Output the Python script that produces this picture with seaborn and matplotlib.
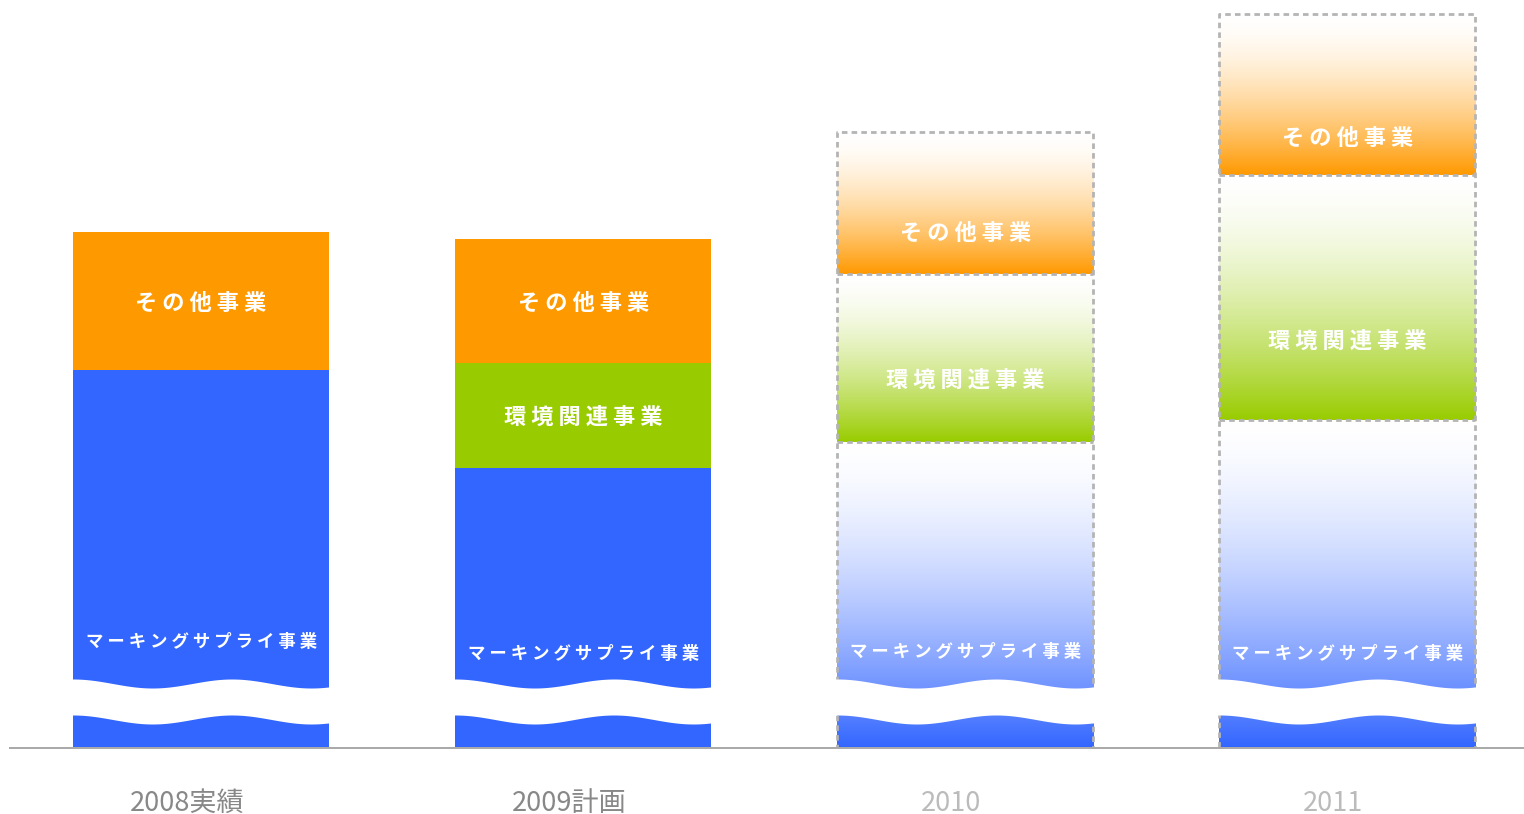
import numpy as np
import pandas as pd
import matplotlib
matplotlib.use("Agg")
import matplotlib.pyplot as plt
import seaborn as sns
from matplotlib.transforms import ScaledTranslation
from matplotlib.colors import to_rgb

# Segment sizes per year (stacked from the bottom: marking supplies, environment, other)
years = ["2008実績", "2009計画", "2010", "2011"]
marking = [378, 280, 306, 328]
environment = [0, 105, 168, 245]
other = [138, 124, 142, 161]
forecast = [False, False, True, True]

label_marking = "マーキングサプライ事業"
label_env = "環境関連事業"
label_other = "その他事業"

BLUE = "#3366FF"
GREEN = "#99CC00"
ORANGE = "#FF9900"
DASH_GREY = "#B4B4B4"

sns.set_theme(style="white")
plt.rcParams["font.family"] = ["Noto Sans CJK JP", "DejaVu Sans"]

df = pd.DataFrame({"year": years, "marking": marking,
                   "environment": environment, "other": other})
df["top_marking"] = df["marking"]
df["top_env"] = df["marking"] + df["environment"]
df["top_total"] = df["top_env"] + df["other"]

W, H = 1524, 814
fig = plt.figure(figsize=(W / 100, H / 100), dpi=100)
ax = fig.add_axes([10 / W, 66 / H, 1514 / W, 748 / H])

BAR_W = 0.67
layers = [("top_total", ORANGE), ("top_env", GREEN), ("top_marking", BLUE)]
for col, color in layers:
    n0 = len(ax.patches)
    sns.barplot(data=df, x="year", y=col, color=color, width=BAR_W,
                saturation=1, linewidth=0, ax=ax, zorder=2)
    # forecast bars get gradient fills instead of solid colour
    for j, p in enumerate(ax.patches[n0:]):
        if forecast[j]:
            p.set_visible(False)


def gradient(color, n=256, power=1.6):
    rgb = np.array(to_rgb(color))
    s = 1 - np.linspace(0, 1, n)  # 1 at bottom row, 0 at top row
    wgt = s ** power
    img = 1 - wgt[:, None] * (1 - rgb[None, :])
    return img[:, None, :]


dash = (0, (2.0, 1.5))
DASH_LW = 2.0
for j in range(len(years)):
    if not forecast[j]:
        continue
    x0, x1 = j - BAR_W / 2, j + BAR_W / 2
    segs = [(0, df.top_marking[j], BLUE),
            (df.top_marking[j], df.top_env[j], GREEN),
            (df.top_env[j], df.top_total[j], ORANGE)]
    for b, t, c in segs:
        if t > b:
            ax.imshow(gradient(c), extent=[x0, x1, b, t], origin="lower",
                      aspect="auto", interpolation="bilinear", zorder=2)
    tot = df.top_total[j]
    ax.plot([x0, x1, x1, x0, x0], [0, 0, tot, tot, 0], ls=dash, lw=DASH_LW,
            color=DASH_GREY, zorder=3)
    for yb in (df.top_marking[j], df.top_env[j]):
        ax.plot([x0, x1], [yb, yb], ls=dash, lw=DASH_LW, color=DASH_GREY, zorder=3)

# wavy axis-break band across the marking segment
BREAK_LO, BREAK_HI, AMP = 28.5, 64.5, 4.5
for j in range(len(years)):
    x0, x1 = j - BAR_W / 2, j + BAR_W / 2
    xs = np.linspace(x0 - 0.012, x1 + 0.012, 300)
    tt = (xs - x0) / (x1 - x0)
    wave = AMP * np.cos(2 * np.pi * tt / 0.62)
    ax.fill_between(xs, BREAK_LO + wave, BREAK_HI + wave, color="white",
                    lw=0, zorder=4)


def spaced(s):
    return " ".join(s)


marking_label_y = [106, 94, 96, 94]
env_frac = [0.5, 0.5, 0.38, 0.33]
other_frac = [0.5, 0.5, 0.30, 0.24]
TXT = dict(ha="center", va="center", color="white", fontweight="bold", zorder=5)
for j in range(len(years)):
    ax.text(j, marking_label_y[j], spaced(label_marking), fontsize=12.5, **TXT)
    if df.environment[j] > 0:
        b, t = df.top_marking[j], df.top_env[j]
        ax.text(j, b + env_frac[j] * (t - b) - 2, spaced(label_env),
                fontsize=16, **TXT)
    b, t = df.top_env[j], df.top_total[j]
    ax.text(j, b + other_frac[j] * (t - b) - 2, spaced(label_other),
            fontsize=16, **TXT)

ax.set_xlim(-0.5, 3.462)
ax.set_ylim(0, 748)
ax.set_xlabel("")
ax.set_ylabel("")
ax.set_yticks([])
ax.set_xticks(range(len(years)))
ax.set_xticklabels(years, fontsize=19.5)
ax.tick_params(axis="x", length=0, pad=30)
shift = ScaledTranslation(-14 / 100, 0, fig.dpi_scale_trans)
for j, lab in enumerate(ax.get_xticklabels()):
    lab.set_color("#BBBBBB" if forecast[j] else "#888888")
    lab.set_transform(lab.get_transform() + shift)

for side in ("top", "left", "right"):
    ax.spines[side].set_visible(False)
ax.spines["bottom"].set_color("#AAAAAA")
ax.spines["bottom"].set_linewidth(1.44)
ax.spines["bottom"].set_zorder(6)
ax.set_facecolor("white")
fig.patch.set_facecolor("white")

fig.savefig("out.png", dpi=100)
